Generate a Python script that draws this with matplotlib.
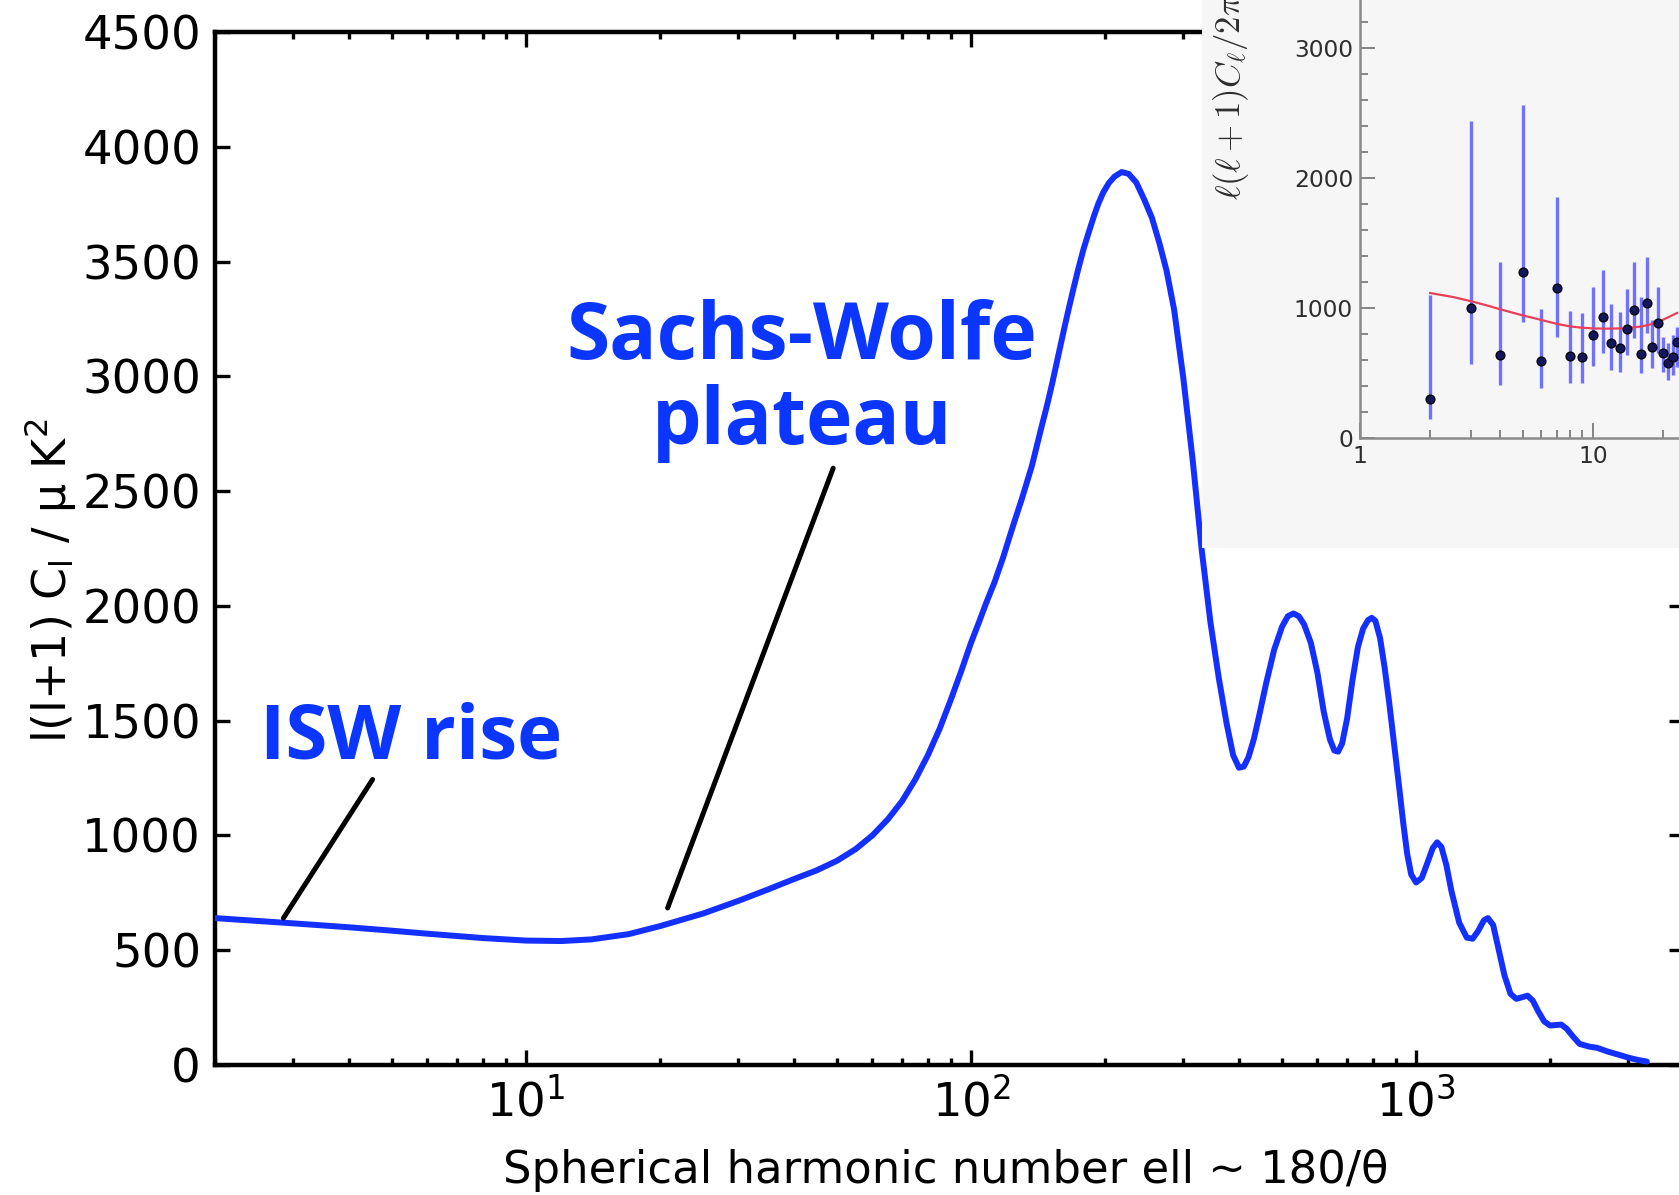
import numpy as np
import matplotlib
matplotlib.use("Agg")
import matplotlib.pyplot as plt
from matplotlib.ticker import LogLocator, MultipleLocator, NullLocator, FuncFormatter

# ---------------------------------------------------------------------------
# CMB temperature power spectrum l(l+1)C_l / uK^2 (theory curve)
ell = [2, 3, 4, 5, 6, 7, 8, 10, 12, 14, 17, 20, 25, 30, 35, 40, 45, 50, 55,
       60, 65, 70, 75, 80, 85, 90, 95, 100, 104, 108, 113, 118, 122, 126, 130,
       137, 144, 148, 152, 157, 162, 166, 170, 174, 179, 184, 189, 193, 198,
       204, 210, 218, 226, 235, 245, 255, 265, 275, 286, 300, 315, 330, 345,
       360, 375, 388, 400, 410, 420, 432, 445, 460, 480, 500, 515, 530, 545,
       560, 580, 600, 620, 640, 655, 668, 682, 700, 720, 740, 760, 780, 795,
       810, 830, 850, 870, 895, 915, 935, 955, 975, 1000, 1030, 1060, 1090,
       1115, 1140, 1170, 1200, 1250, 1300, 1340, 1380, 1420, 1450, 1490, 1530,
       1580, 1630, 1680, 1730, 1780, 1830, 1880, 1940, 2000, 2060, 2120, 2180,
       2250, 2330, 2450, 2550, 2700, 2850, 3000, 3150, 3300]
power = [640, 617, 600, 585, 572, 562, 553, 542, 540, 547, 570, 605, 660, 715,
         765, 810, 848, 890, 940, 1000, 1070, 1150, 1245, 1350, 1465, 1590,
         1715, 1840, 1925, 2010, 2105, 2210, 2300, 2385, 2465, 2610, 2780,
         2870, 2965, 3090, 3210, 3300, 3385, 3465, 3555, 3630, 3700, 3750,
         3800, 3842, 3870, 3890, 3882, 3845, 3770, 3690, 3580, 3460, 3290,
         2990, 2630, 2240, 1930, 1690, 1490, 1350, 1295, 1300, 1340, 1420,
         1530, 1660, 1810, 1910, 1955, 1967, 1955, 1920, 1840, 1710, 1540,
         1420, 1370, 1365, 1400, 1510, 1680, 1820, 1900, 1938, 1948, 1935,
         1860, 1730, 1580, 1380, 1220, 1060, 920, 830, 795, 815, 880, 945,
         970, 950, 870, 760, 620, 555, 550, 585, 630, 640, 610, 510, 390, 310,
         288, 295, 302, 280, 235, 190, 172, 174, 176, 158, 125, 92, 80, 75,
         58, 45, 32, 22, 15]

y_ticks = [0, 500, 1000, 1500, 2000, 2500, 3000, 3500, 4000, 4500]

# Annotation pointers: (ell, power) of the tip on the curve and of the far end
isw_tip, isw_tail = (2.85, 640), (4.52, 1244)
sw_tip, sw_tail = (20.8, 684), (49.0, 2600)

# Low-ell band powers with error bars, and the best-fit model (inset panel)
inset_ell = [2, 3, 4, 5, 6, 7, 8, 9, 10, 11, 12, 13, 14, 15, 16, 17, 18, 19,
             20, 21, 22, 23]
inset_power = [300, 1000, 640, 1280, 595, 1155, 630, 625, 790, 930, 730, 690,
               840, 985, 645, 1040, 702, 887, 656, 579, 625, 741]
inset_low = [146, 570, 410, 890, 385, 780, 425, 420, 555, 655, 520, 505, 640,
             770, 500, 810, 538, 653, 510, 445, 485, 548]
inset_high = [1100, 2440, 1355, 2560, 990, 1850, 980, 960, 1165, 1290, 1030,
              970, 1145, 1355, 1085, 1392, 908, 1164, 779, 730, 790, 856]
model_ell = [2, 2.5, 3, 3.5, 4, 4.5, 5, 5.5, 6, 7, 8, 9, 10, 11.5, 13, 14.5,
             16, 17.5, 19, 21, 23]
model_power = [1115, 1085, 1052, 1020, 990, 965, 943, 925, 908, 878, 858, 848,
               843, 841, 843, 848, 857, 872, 892, 928, 962]
inset_y_ticks = [0, 1000, 2000, 3000]

# ---------------------------------------------------------------------------
W, H = 1679, 1195
fig = plt.figure(figsize=(W / 100, H / 100), dpi=100)
fig.patch.set_facecolor("white")

curve_blue = "#1430ff"
text_blue = "#0a36ff"

# Main panel
ax = fig.add_axes([215 / W, 1 - 1065 / H, 1469 / W, 1033 / H])
ax.set_xscale("log")
ax.set_xlim(2, 4000)
ax.set_ylim(0, 4500)
ax.plot(ell, power, color=curve_blue, lw=4.3, solid_joinstyle="round",
        solid_capstyle="round", zorder=3)

ax.set_yticks(y_ticks)
ax.yaxis.set_minor_locator(NullLocator())
ax.xaxis.set_major_locator(LogLocator(base=10, numticks=10))
ax.xaxis.set_minor_locator(LogLocator(base=10, subs=np.arange(2, 10) * 1.0,
                                      numticks=30))
ax.tick_params(which="both", direction="in", top=True, right=True,
               width=2.4, color="black")
ax.tick_params(which="major", length=11, labelsize=33.5, pad=10)
ax.tick_params(which="minor", length=5)
for sp in ax.spines.values():
    sp.set_linewidth(3.2)

# Pointer lines
for tip, tail in [(isw_tip, isw_tail), (sw_tip, sw_tail)]:
    ax.annotate("", xy=tip, xytext=tail,
                arrowprops=dict(arrowstyle="-", color="black", lw=3.6,
                                shrinkA=0, shrinkB=0))

label_font = dict(family="Open Sans", weight="bold", color=text_blue)
ax.text(2.52, 1337, "ISW rise", ha="left", va="baseline", fontsize=55,
        **label_font)
ax.text(41.7, 3077, "Sachs-Wolfe", ha="center", va="baseline", fontsize=56.5,
        **label_font)
ax.text(41.7, 2705, "plateau", ha="center", va="baseline", fontsize=56.5,
        **label_font)

# Axis titles
fig.text(50 / W, 1 - 581 / H, "l(l+1) C$_{\\rm l}$ / μ K$^2$", rotation=90,
         ha="center", va="center", fontsize=33)
fig.text(946 / W, 1 - 1183 / H, "Spherical harmonic number ell ~ 180/θ",
         ha="center", va="baseline", fontsize=32.3)

# ---------------------------------------------------------------------------
# Inset panel (low multipoles)
bg = fig.add_axes([1202 / W, 1 - 548 / H, (W - 1202) / W + 0.01, 548 / H + 0.01])
bg.set_facecolor("#f6f6f6")
bg.set_xticks([])
bg.set_yticks([])
for sp in bg.spines.values():
    sp.set_visible(False)
bg.set_zorder(5)

ins = fig.add_axes([1360 / W, 1 - 438 / H, (W - 1360) / W, 438 / H])
ins.set_zorder(6)
ins.patch.set_alpha(0)
ins.set_xscale("log")
ins.set_xlim(1, 23.4)
ins.set_ylim(0, 3369)

lo = np.array(inset_power) - np.array(inset_low)
hi = np.array(inset_high) - np.array(inset_power)
ins.errorbar(inset_ell, inset_power, yerr=[lo, hi], fmt="none",
             ecolor="#5a5aff", elinewidth=2.4, capsize=0, alpha=0.85, zorder=2)
ins.plot(model_ell, model_power, color="#e8405a", lw=1.6, zorder=3)
ins.plot(inset_ell, inset_power, "o", ms=6.4, mfc="#15175e", mec="black",
         mew=0.9, zorder=4)

for side in ["top", "right"]:
    ins.spines[side].set_visible(False)
for side in ["left", "bottom"]:
    ins.spines[side].set_color("#8a8a8a")
    ins.spines[side].set_linewidth(1.8)

ins.set_yticks(inset_y_ticks)
ins.yaxis.set_minor_locator(MultipleLocator(200))
ins.xaxis.set_major_locator(LogLocator(base=10, numticks=10))
ins.xaxis.set_minor_locator(LogLocator(base=10, subs=np.arange(2, 10) * 1.0,
                                       numticks=30))
ins.xaxis.set_major_formatter(FuncFormatter(lambda v, _: f"{v:g}"))
ins.xaxis.set_minor_formatter(FuncFormatter(lambda v, _: ""))
ins.tick_params(which="both", direction="in", color="#7a7a7a", width=1.3,
                labelcolor="#2e2e2e", labelsize=16.8)
ins.tick_params(which="major", length=11, pad=5)
ins.tick_params(which="minor", length=5.5)

fig.text(1231 / W, 1 - 200 / H, r"$\ell(\ell+1)C_\ell/2\pi$", rotation=90,
         ha="center", va="bottom", fontsize=25, math_fontfamily="cm",
         color="#2e2e2e", zorder=7)

fig.savefig("out.png", dpi=100)
